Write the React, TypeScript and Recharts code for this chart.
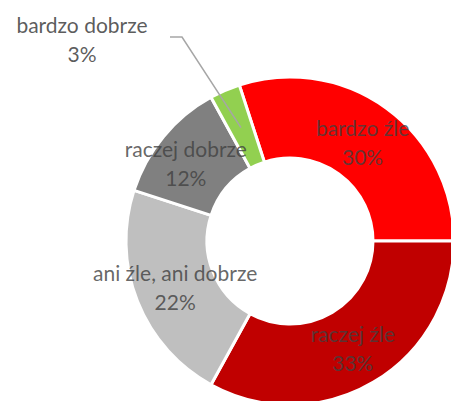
import { PieChart, Pie, Cell } from 'recharts'

// ─── Data ─────────────────────────────────────────────────────────────────────

const categories = ['bardzo źle', 'raczej źle', 'ani źle, ani dobrze', 'raczej dobrze', 'bardzo dobrze']
const shares = [30, 33, 22, 12, 3]
const colors = ['#FF0000', '#C00000', '#BFBFBF', '#808080', '#92D050']

const data = categories.map((name, i) => ({ name, value: shares[i] }))

const RAD = Math.PI / 180
const FONT = 'Lato, "Open Sans", sans-serif'
const TEXT = '#404040'

// ─── Label ────────────────────────────────────────────────────────────────────

function renderLabel(props: any) {
  const { cx, cy, midAngle, innerRadius, outerRadius, index } = props
  const name = categories[index]
  const pct = `${shares[index]}%`
  const r = (innerRadius + outerRadius) / 2
  let x = cx + r * Math.cos(-midAngle * RAD)
  const y = cy + r * Math.sin(-midAngle * RAD)

  // smallest slice: label sits outside, with a leader line
  if (index === categories.length - 1) {
    const tx = 82
    const ty = 24
    return (
      <g>
        <polyline
          points={`170,37 182,37 ${x},${y}`}
          fill="none"
          stroke="#A6A6A6"
          strokeWidth={1.5}
        />
        <text x={tx} y={ty} textAnchor="middle" dominantBaseline="central" fill={TEXT} fillOpacity={0.85} fontSize={21} fontFamily={FONT}>
          <tspan x={tx} dy={0}>{name}</tspan>
          <tspan x={tx} dy={29}>{pct}</tspan>
        </text>
      </g>
    )
  }

  if (index === 3) x -= 9

  return (
    <text x={x} y={y - 14} textAnchor="middle" dominantBaseline="central" fill={TEXT} fillOpacity={0.8} fontSize={21} fontFamily={FONT}>
      <tspan x={x} dy={0}>{name}</tspan>
      <tspan x={x} dy={29}>{pct}</tspan>
    </text>
  )
}

// ─── Component ────────────────────────────────────────────────────────────────

export default function App() {
  return (
    <div style={{ position: 'absolute', left: 0, top: 0, width: 451, height: 401, background: '#fff' }}>
      <PieChart width={451} height={401} margin={{ top: 0, right: 0, bottom: 0, left: 0 }}>
        <Pie
          data={data}
          dataKey="value"
          nameKey="name"
          cx={290}
          cy={241}
          innerRadius={83}
          outerRadius={164}
          startAngle={108}
          endAngle={-252}
          stroke="#FFFFFF"
          strokeWidth={3}
          label={renderLabel}
          labelLine={false}
          isAnimationActive={false}
        >
          {data.map((d, i) => (
            <Cell key={d.name} fill={colors[i]} />
          ))}
        </Pie>
      </PieChart>
    </div>
  )
}
